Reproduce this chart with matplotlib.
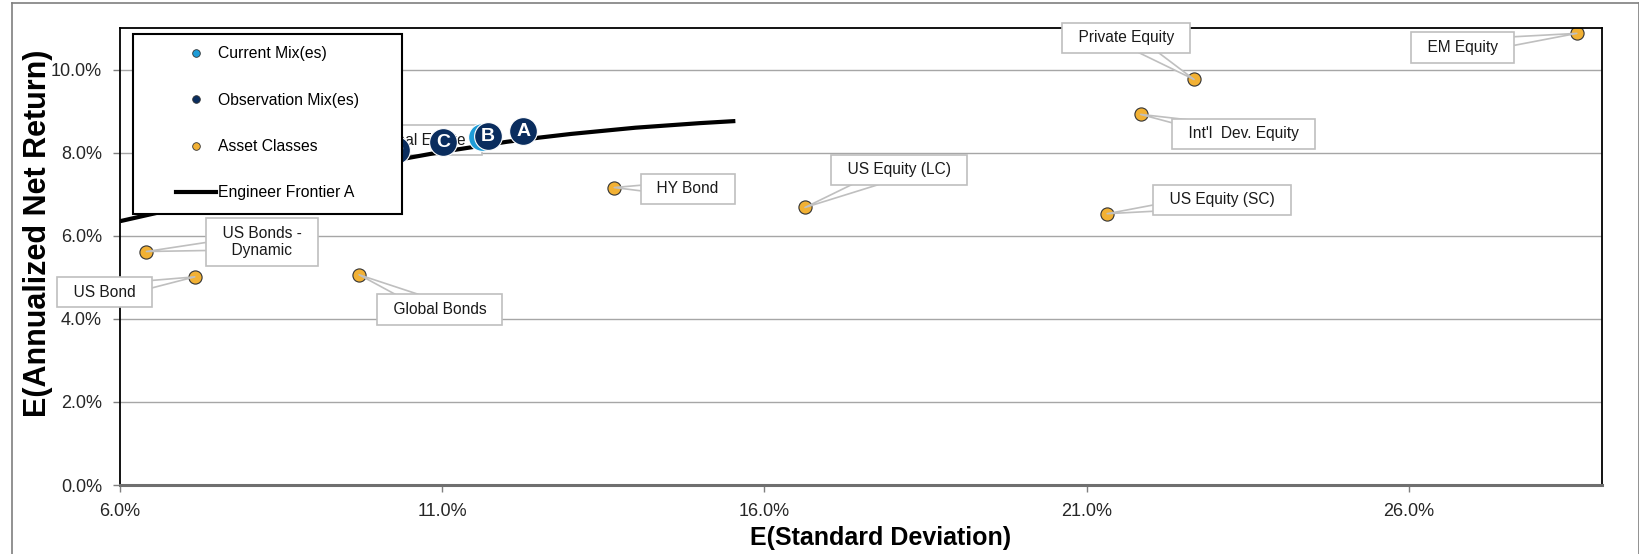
import matplotlib.pyplot as plt
from matplotlib.lines import Line2D
from matplotlib.patches import Rectangle
from matplotlib.ticker import FuncFormatter

plt.rcParams['font.family'] = ['Liberation Sans', 'DejaVu Sans']

# --- data (percent) ---
asset_names = ['EM Equity', 'Private Equity', "Int'l  Dev. Equity", 'US Equity (SC)',
               'US Equity (LC)', 'HY Bond', 'Global Bonds', 'US Bond',
               'US Bonds -\nDynamic', 'Real Estate']
asset_sd = [28.61, 22.67, 21.84, 21.32, 16.63, 13.67, 9.71, 7.16, 6.41, 9.30]
asset_ret = [10.87, 9.76, 8.92, 6.53, 6.68, 7.16, 5.06, 5.01, 5.62, 7.20]

mix_labels = ['D', 'C', 'B', 'A']
mix_sd = [10.29, 11.02, 11.71, 12.26]
mix_ret = [8.06, 8.25, 8.40, 8.51]

current_sd = [11.62]
current_ret = [8.37]

frontier_sd = [6.0, 7.0, 8.0, 9.0, 10.0, 10.5, 11.0, 11.5, 12.0, 12.5, 13.0, 14.0, 15.0, 15.55]
frontier_ret = [6.35, 6.70, 7.05, 7.38, 7.73, 7.88, 8.02, 8.14, 8.26, 8.36, 8.45, 8.60, 8.71, 8.76]

x_ticks = [6, 11, 16, 21, 26]
y_ticks = [0, 2, 4, 6, 8, 10]

# label box offsets from the point, in points
label_offsets = [(-82, -10), (-49, 30), (74, -14), (83, 10), (68, 27),
                 (53, -1), (58, -25), (-65, -11), (83, 7), (67, 33)]

gold = '#F2B134'
navy = '#0A2D5E'
light_blue = '#1E9CD7'

fig, ax = plt.subplots(figsize=(16.4, 5.54), dpi=100)
fig.subplots_adjust(left=0.0732, right=0.9768, bottom=0.1245, top=0.9495)

ax.set_xlim(6, 29)
ax.set_ylim(0, 11)
ax.set_xticks(x_ticks)
ax.set_yticks(y_ticks)
ax.xaxis.set_major_formatter(FuncFormatter(lambda v, p: f'{v:.1f}%'))
ax.yaxis.set_major_formatter(FuncFormatter(lambda v, p: f'{v:.1f}%'))
ax.tick_params(axis='both', labelsize=13, labelcolor='#262626', color='#7f7f7f',
               length=5, width=1, pad=8)
ax.grid(axis='y', color='#a6a6a6', linewidth=1, zorder=0.5)
ax.set_axisbelow(True)

for side in ['top', 'right', 'left']:
    ax.spines[side].set_color('black')
    ax.spines[side].set_linewidth(1.3)
ax.spines['bottom'].set_color('#6f6f6f')
ax.spines['bottom'].set_linewidth(2.2)

ax.set_xlabel('E(Standard Deviation)', fontsize=18, fontweight='bold')
ax.set_ylabel('E(Annualized Net Return)', fontsize=22, fontweight='bold')
ax.xaxis.set_label_coords(0.513, -0.09)
ax.yaxis.set_label_coords(-0.045, 0.551)

# asset classes
ax.scatter(asset_sd, asset_ret, s=90, color=gold, edgecolor='#333333',
           linewidth=0.8, zorder=2)

for name, x, y, off in zip(asset_names, asset_sd, asset_ret, label_offsets):
    ax.annotate('  ' + name.replace('\n', '  \n  ') + '  ', xy=(x, y), xytext=off,
                textcoords='offset points', ha='center', va='center',
                multialignment='center', fontsize=11.2, color='#1a1a1a',
                bbox=dict(boxstyle='square,pad=0.5', fc='white', ec='#bfbfbf', lw=1.2),
                arrowprops=dict(arrowstyle='wedge,tail_width=1.0,shrink_factor=0.5',
                                fc='white', ec='#bfbfbf', lw=1.2,
                                patchA=None, shrinkA=0, shrinkB=0),
                zorder=3, annotation_clip=False)

# frontier
ax.plot(frontier_sd, frontier_ret, color='black', linewidth=3, zorder=4,
        solid_capstyle='butt')

# current mix
ax.scatter(current_sd, current_ret, s=400, color=light_blue, edgecolor='white',
           linewidth=0.8, zorder=5)

# observation mixes
ax.scatter(mix_sd, mix_ret, s=400, color=navy, edgecolor='white', linewidth=0.8, zorder=6)
for lab, x, y in zip(mix_labels, mix_sd, mix_ret):
    ax.text(x, y, lab, ha='center', va='center', color='white', fontsize=14,
            fontweight='bold', zorder=6.5)

# legend box drawn over the plot
ax.add_patch(Rectangle((0.0088, 0.593), 0.1815, 0.394, transform=ax.transAxes,
                       facecolor='white', edgecolor='black', linewidth=1.5,
                       zorder=7, clip_on=False))
handles = [
    Line2D([], [], linestyle='none', marker='o', markersize=5.5,
           markerfacecolor=light_blue, markeredgecolor='#333333', markeredgewidth=0.6),
    Line2D([], [], linestyle='none', marker='o', markersize=5.5,
           markerfacecolor=navy, markeredgecolor='#333333', markeredgewidth=0.6),
    Line2D([], [], linestyle='none', marker='o', markersize=5.5,
           markerfacecolor=gold, markeredgecolor='#333333', markeredgewidth=0.6),
    Line2D([], [], color='black', linewidth=3),
]
leg = ax.legend(handles, ['Current Mix(es)', 'Observation Mix(es)', 'Asset Classes',
                          'Engineer Frontier A'],
                loc='upper left', bbox_to_anchor=(0.0378, 0.96), frameon=False,
                borderpad=0, borderaxespad=0, fontsize=11.3, labelspacing=2.0,
                handlelength=2.55, handletextpad=0.15)
leg.set_zorder(8)

# outer chart border
fig.add_artist(Line2D([0.0073, 0.0073], [0, 0.9946], color='#7f7f7f', lw=1.2,
                      transform=fig.transFigure))
fig.add_artist(Line2D([0.0073, 0.9994], [0.9946, 0.9946], color='#7f7f7f', lw=1.2,
                      transform=fig.transFigure))
fig.add_artist(Line2D([0.9994, 0.9994], [0, 0.9946], color='#7f7f7f', lw=1.2,
                      transform=fig.transFigure))

fig.savefig('out.png', dpi=100)
